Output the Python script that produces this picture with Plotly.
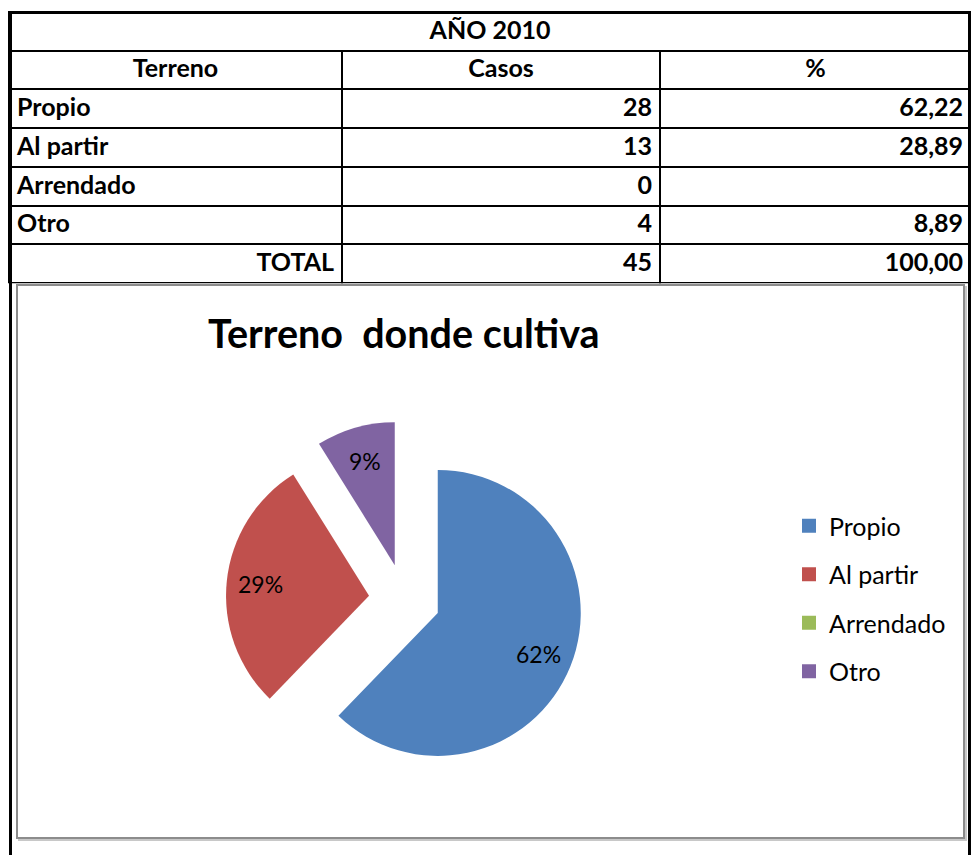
import math
import plotly.graph_objects as go

# ---------------- data ----------------
anio_titulo = "AÑO 2010"
encabezados = ["Terreno", "Casos", "%"]
terrenos = ["Propio", "Al partir", "Arrendado", "Otro"]
casos = [28, 13, 0, 4]
porcentajes = [62.22, 28.89, None, 8.89]
total_label = "TOTAL"
total_casos = 45
total_pct = 100.00
chart_title = "Terreno\u00a0 donde cultiva"
colores = ["#4F81BD", "#C0504D", "#9BBB59", "#8064A2"]

# ---------------- layout constants (page pixels) ----------------
W, H = 979, 855
OFF = 8                          # default body margin of the html page
FW, FH = W - OFF, H - OFF
FONT = "Lato"
BOLD = dict(family=FONT, size=25, color="black", weight="bold")
LINE = dict(color="black", width=2)
COLW = [333, 318, 311]
TX0, TX1 = 9, 971
RIGHT_X = 969.5
ROW = 38.7
T_TOP = 12

PIE_CX, PIE_CY, PIE_R, PULL = 404.6, 599.5, 143.0, 0.25


def px_x(v):
    return (v - OFF) / FW


def px_y(v):
    return 1 - (v - OFF) / FH


def fmt(v):
    return "" if v is None else f"{v:.2f}".replace(".", ",")


fig = go.Figure()

y_title_bot = T_TOP + ROW
y_body_bot = y_title_bot + 5 * ROW
y_total_bot = y_body_bot + ROW

# table title row (merged cell)
fig.add_trace(go.Table(
    domain=dict(x=[px_x(TX0), px_x(TX1)], y=[px_y(y_title_bot + 1), px_y(T_TOP)]),
    columnwidth=[1],
    header=dict(values=[anio_titulo], height=ROW, line=LINE,
                fill=dict(color="white"), align="center", font=BOLD),
    cells=dict(values=[[]], height=ROW, line=LINE, fill=dict(color="white")),
))

# header + category rows
fig.add_trace(go.Table(
    domain=dict(x=[px_x(TX0), px_x(TX1)], y=[px_y(y_body_bot + 1), px_y(y_title_bot)]),
    columnwidth=COLW,
    header=dict(values=encabezados, height=ROW, line=LINE,
                fill=dict(color="white"), align="center", font=BOLD),
    cells=dict(values=[terrenos, [str(c) for c in casos],
                       [fmt(p) for p in porcentajes]],
               height=ROW, line=LINE, fill=dict(color="white"),
               align=["left", "right", "right"], font=BOLD),
))

# total row
fig.add_trace(go.Table(
    domain=dict(x=[px_x(TX0), px_x(TX1)], y=[px_y(y_total_bot + 1), px_y(y_body_bot)]),
    columnwidth=COLW,
    header=dict(values=[total_label, str(total_casos), fmt(total_pct)],
                height=ROW, line=LINE, fill=dict(color="white"),
                align="right", font=BOLD),
    cells=dict(values=[[], [], []], height=ROW, line=LINE,
               fill=dict(color="white")),
))

# pie chart
half = PIE_R * (1 + PULL)
fig.add_trace(go.Pie(
    labels=terrenos, values=casos, textinfo="none",
    marker=dict(colors=colores, line=dict(width=0)),
    sort=False, direction="clockwise", rotation=0, pull=PULL,
    domain=dict(x=[px_x(PIE_CX - half), px_x(PIE_CX + half)],
                y=[px_y(PIE_CY + half), px_y(PIE_CY - half)]),
    showlegend=False, hoverinfo="label+value+percent",
))

# percentage labels placed along each slice bisector (Excel style)
tot = sum(casos)
annotations = []
cum = 0
for c in casos:
    if c > 0:
        theta = 2 * math.pi * (cum + c / 2) / tot
        dist = PIE_R * PULL + 0.76 * PIE_R
        lx = PIE_CX + dist * math.sin(theta)
        ly = PIE_CY - dist * math.cos(theta)
        annotations.append(dict(text=f"{round(100 * c / tot)}%", x=px_x(lx), y=px_y(ly),
                                xref="paper", yref="paper", showarrow=False,
                                xanchor="center", yanchor="middle",
                                font=dict(family=FONT, size=23, color="black")))
    cum += c

annotations.append(dict(text=chart_title, x=px_x(404), y=px_y(332),
                        xref="paper", yref="paper", showarrow=False,
                        xanchor="center", yanchor="middle",
                        font=dict(family=FONT, size=39.5, color="black", weight="bold")))

# legend entries (one per category, spaced like the original)
for lab, col in zip(terrenos, colores):
    fig.add_trace(go.Scatter(
        x=[None], y=[None], mode="markers", name=lab, legendgroup=lab,
        marker=dict(symbol="square", size=14, color=col, line=dict(width=0)),
        showlegend=True,
    ))

fig.update_layout(
    width=FW, height=FH,
    margin=dict(l=0, r=0, t=0, b=0),
    paper_bgcolor="white", plot_bgcolor="white",
    xaxis=dict(visible=False), yaxis=dict(visible=False),
    showlegend=True,
    legend=dict(x=px_x(789), y=px_y(503), xanchor="left", yanchor="top",
                font=dict(family=FONT, size=25, color="black"),
                tracegroupgap=13, bgcolor="rgba(0,0,0,0)", itemclick=False),
    annotations=annotations,
    shapes=[
        # chart area frame with soft shadow
        dict(type="rect", xref="paper", yref="paper",
             x0=px_x(19), x1=px_x(966), y0=px_y(840), y1=px_y(287),
             line=dict(color="#c8c8c8", width=2), layer="below"),
        dict(type="rect", xref="paper", yref="paper",
             x0=px_x(17), x1=px_x(964), y0=px_y(838), y1=px_y(285),
             line=dict(color="#8c8c8c", width=2), fillcolor="white", layer="below"),
        # thicker outer frame of the table
        dict(type="line", xref="paper", yref="paper",
             x0=px_x(10.5), x1=px_x(RIGHT_X), y0=px_y(12.5), y1=px_y(12.5),
             line=dict(color="black", width=3)),
        # sheet borders running from the table top to the bottom of the page
        dict(type="line", xref="paper", yref="paper",
             x0=px_x(10.5), x1=px_x(10.5), y0=0, y1=px_y(11),
             line=dict(color="black", width=3)),
        dict(type="line", xref="paper", yref="paper",
             x0=px_x(RIGHT_X), x1=px_x(RIGHT_X), y0=0, y1=px_y(11),
             line=dict(color="black", width=3)),
    ],
)

fig.write_html("out.html")
